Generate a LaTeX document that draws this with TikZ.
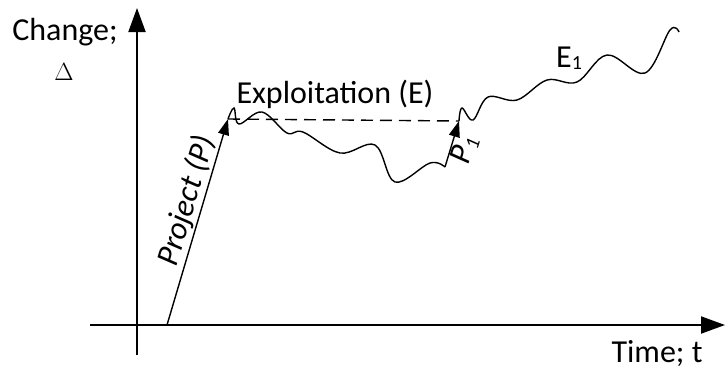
\documentclass[tikz,border=0pt]{standalone}
\usepackage{fontspec}
\setmainfont{Carlito}
\usetikzlibrary{arrows.meta, positioning, calc}

\begin{document}
\begin{tikzpicture}[x=1pt, y=-1pt, line width=1.4pt,
  every node/.style={font=\fontsize{32}{38}\selectfont, inner sep=1pt},
  axis/.style={line width=2pt, -{Triangle[length=24pt, width=17pt]}},
  jump/.style={line width=1.4pt, -{Triangle[length=16pt, width=11pt]}},
  wave/.style={line width=1.4pt, smooth, tension=0.6}]
\useasboundingbox (0,0) rectangle (726,376);
% axes
\coordinate (xs) at (90,325);
\coordinate (xe) at (725,325);
\coordinate (ys) at (137,355);
\coordinate (ye) at (137,8);
\draw[axis] (xs) -- (xe);
\draw[axis] (ys) -- (ye);
\node (ylab) at (65,32) {Change;};
\node[font=\fontsize{24}{28}\selectfont] (delta) at (64,72) {$\Delta$};
\node (xlab) at (657,354) {Time; t};
% project, exploitation
\coordinate (p0) at (167,325);
\coordinate (e0) at (228,119);
\coordinate (p1) at (445,167);
\coordinate (e1) at (459,121);
\draw[jump] (p0) -- node[sloped, above, pos=0.58] {\itshape Project (P)} (e0);
\draw[dashed, dash pattern=on 12pt off 7pt] (e0) -- (e1);
\node (expl) at (335,94) {Exploitation (E)};
\draw[wave] plot coordinates {(e0) (234,108) (239,124) (262,112) (287,133)
  (303,132) (340,153) (375,145) (395,182) (430,163) (p1)};
\draw[jump] (p1) -- node[sloped, below, pos=0.45] {\itshape P{\fontsize{20}{24}\selectfont\raisebox{-4pt}{1}}} (e1);
\draw[wave] plot coordinates {(e1) (462,108) (473,120) (488,97) (517,100)
  (547,80) (577,82) (607,55) (645,73) (670,30) (679,32)};
\node (elab) at (569,58) {E{\fontsize{20}{24}\selectfont\raisebox{-2pt}{1}}};
\end{tikzpicture}
\end{document}
